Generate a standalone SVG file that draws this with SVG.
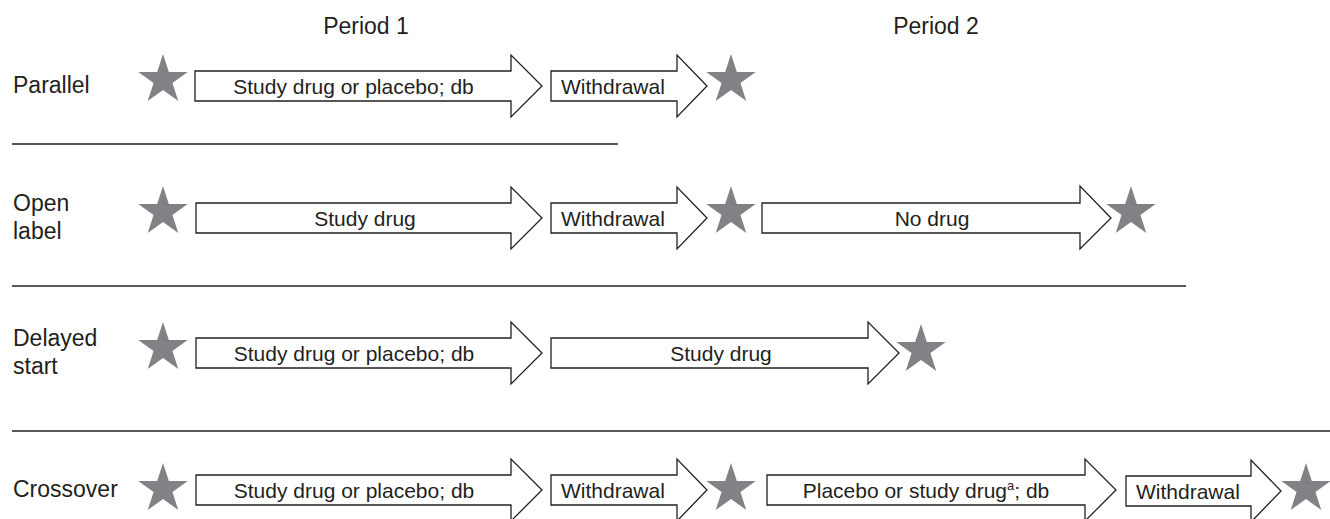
<svg xmlns="http://www.w3.org/2000/svg" width="1330" height="519" viewBox="0 0 1330 519">
<style>
  .lbl{font-family:"Liberation Sans",Arial,sans-serif;font-size:23px;fill:#231f20}
  .atx{font-family:"Liberation Sans",Arial,sans-serif;font-size:21px;fill:#231f20}
  .arr{fill:#ffffff;stroke:#231f20;stroke-width:1.3;stroke-linejoin:miter}
  .star{fill:#808285}
  .sep{stroke:#231f20;stroke-width:1.3}
</style>
<defs>
  <path id="star" d="M0,-26 L5.84,-8.03 L24.73,-8.03 L9.44,3.07 L15.28,21.03 L0,9.93 L-15.28,21.03 L-9.44,3.07 L-24.73,-8.03 L-5.84,-8.03 Z"/>
</defs>
<rect width="1330" height="519" fill="#ffffff"/>

<g id="headers">
  <text class="lbl" x="366" y="34" text-anchor="middle">Period 1</text>
  <text class="lbl" x="936" y="34" text-anchor="middle">Period 2</text>
</g>

<g id="separators">
  <line class="sep" x1="12" y1="144" x2="618" y2="144"/>
  <line class="sep" x1="12" y1="286" x2="1186" y2="286"/>
  <line class="sep" x1="12" y1="431" x2="1330" y2="431"/>
</g>

<!-- Row 1: Parallel -->
<g id="row-parallel">
  <text class="lbl" x="13" y="93">Parallel</text>
  <g id="p-star1"><use href="#star" class="star" x="163" y="80"/></g>
  <g id="p-arrow1">
    <path class="arr" d="M195,71 H511 V55 L542,86 L511,117 V101 H195 Z"/>
    <text class="atx" x="353.5" y="93.5" text-anchor="middle">Study drug or placebo; db</text>
  </g>
  <g id="p-arrow2">
    <path class="arr" d="M551,71 H677 V55 L707,86 L677,117 V101 H551 Z"/>
    <text class="atx" x="561" y="93.5">Withdrawal</text>
  </g>
  <g id="p-star2"><use href="#star" class="star" x="731" y="80"/></g>
</g>

<!-- Row 2: Open label -->
<g id="row-openlabel">
  <text class="lbl" x="13" y="211">Open</text>
  <text class="lbl" x="13" y="239">label</text>
  <g id="o-star1"><use href="#star" class="star" x="163" y="212"/></g>
  <g id="o-arrow1">
    <path class="arr" d="M196,203 H511 V187 L542,218 L511,249 V233 H196 Z"/>
    <text class="atx" x="365" y="225.5" text-anchor="middle">Study drug</text>
  </g>
  <g id="o-arrow2">
    <path class="arr" d="M551,203 H677 V187 L707,218 L677,249 V233 H551 Z"/>
    <text class="atx" x="561" y="225.5">Withdrawal</text>
  </g>
  <g id="o-star2"><use href="#star" class="star" x="731" y="212"/></g>
  <g id="o-arrow3">
    <path class="arr" d="M762,203 H1080 V186 L1111,218 L1080,249 V233 H762 Z"/>
    <text class="atx" x="932" y="225.5" text-anchor="middle">No drug</text>
  </g>
  <g id="o-star3"><use href="#star" class="star" x="1131" y="212"/></g>
</g>

<!-- Row 3: Delayed start -->
<g id="row-delayed">
  <text class="lbl" x="13" y="346">Delayed</text>
  <text class="lbl" x="13" y="374">start</text>
  <g id="d-star1"><use href="#star" class="star" x="163" y="348"/></g>
  <g id="d-arrow1">
    <path class="arr" d="M196,338 H511 V322 L542,353 L511,384 V368 H196 Z"/>
    <text class="atx" x="354" y="360.5" text-anchor="middle">Study drug or placebo; db</text>
  </g>
  <g id="d-arrow2">
    <path class="arr" d="M551,338 H868 V322 L899,353 L868,384 V368 H551 Z"/>
    <text class="atx" x="721" y="360.5" text-anchor="middle">Study drug</text>
  </g>
  <g id="d-star2"><use href="#star" class="star" x="921" y="350"/></g>
</g>

<!-- Row 4: Crossover -->
<g id="row-crossover">
  <text class="lbl" x="13" y="497">Crossover</text>
  <g id="c-star1"><use href="#star" class="star" x="163" y="489"/></g>
  <g id="c-arrow1">
    <path class="arr" d="M196,475 H511 V459 L542,490 L511,521 V505 H196 Z"/>
    <text class="atx" x="354" y="497.5" text-anchor="middle">Study drug or placebo; db</text>
  </g>
  <g id="c-arrow2">
    <path class="arr" d="M551,475 H677 V459 L707,490 L677,521 V505 H551 Z"/>
    <text class="atx" x="561" y="497.5">Withdrawal</text>
  </g>
  <g id="c-star2"><use href="#star" class="star" x="731" y="489"/></g>
  <g id="c-arrow3">
    <path class="arr" d="M767,475 H1085 V459 L1116,490 L1085,521 V505 H767 Z"/>
    <text class="atx" x="926" y="497.5" text-anchor="middle">Placebo or study drug<tspan font-size="13" dy="-8">a</tspan><tspan dy="8">; db</tspan></text>
  </g>
  <g id="c-arrow4">
    <path class="arr" d="M1126,476 H1251 V460 L1281,491 L1251,522 V506 H1126 Z"/>
    <text class="atx" x="1136" y="498.5">Withdrawal</text>
  </g>
  <g id="c-star3"><use href="#star" class="star" x="1306" y="489"/></g>
</g>
</svg>
